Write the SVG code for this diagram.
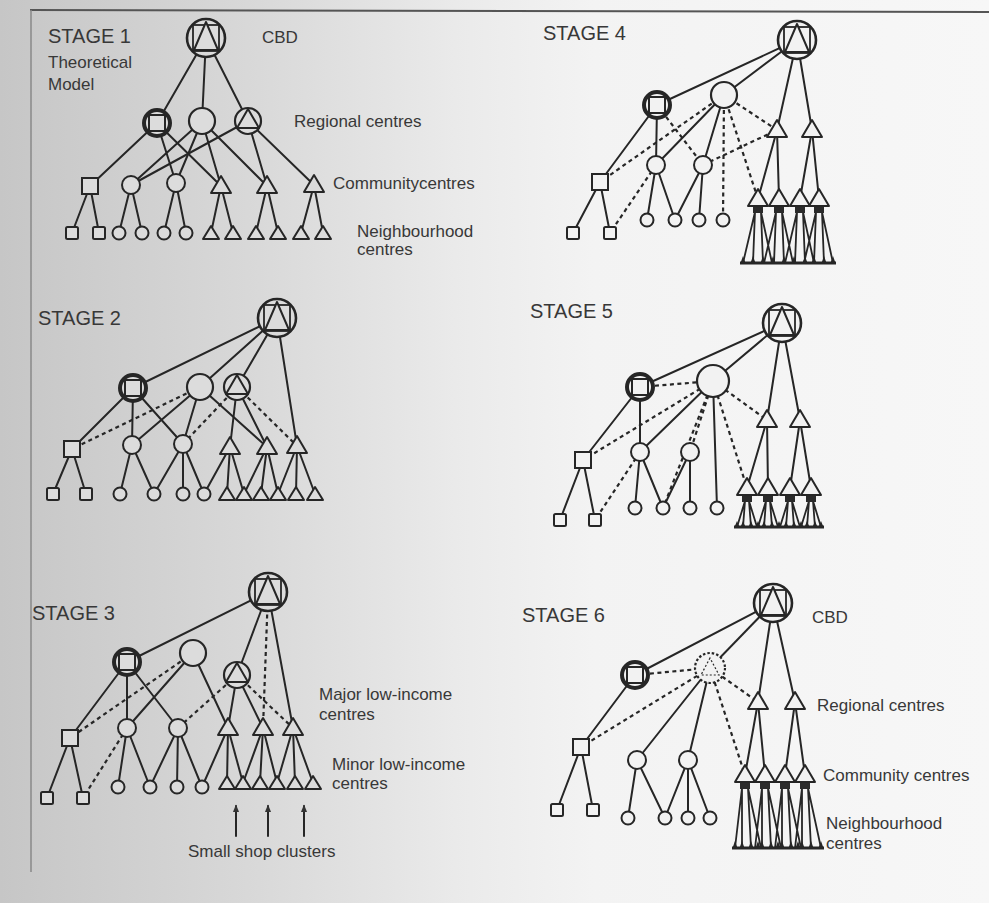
<svg xmlns="http://www.w3.org/2000/svg" width="989" height="903" viewBox="0 0 989 903">
<style>
.nl{fill:#dcdcdc;stroke:#262626}
.nr{fill:#f2f2f2;stroke:#262626}
.e{stroke:#262626;stroke-width:2;fill:none;stroke-linecap:round}
.d{stroke:#262626;stroke-width:2.2;stroke-dasharray:4 3.5;fill:none}
.f{stroke:#262626;stroke-width:1.8;fill:none}
.b{stroke:#262626;stroke-width:3;fill:none}
.sp{fill:#262626;stroke:none}
.t{font-family:"Liberation Sans",Arial,sans-serif;fill:#383838}
.st{font-size:20px}
.lb{font-size:17px}
</style>
<defs>
<linearGradient id="bg" x1="0" y1="0" x2="989" y2="0" gradientUnits="userSpaceOnUse">
<stop offset="0" stop-color="#c6c6c6"/><stop offset="0.25" stop-color="#d8d8d8"/><stop offset="0.46" stop-color="#eaeaea"/><stop offset="0.6" stop-color="#f3f3f3"/><stop offset="1" stop-color="#f7f7f7"/>
</linearGradient>
<marker id="ah" viewBox="0 0 10 10" refX="8" refY="5" markerWidth="8" markerHeight="8" markerUnits="userSpaceOnUse" orient="auto"><path d="M0,1 L10,5 L0,9 z" fill="#333"/></marker>
<g id="cbd"><circle r="19" stroke-width="2.6"/><rect x="-13" y="-13" width="26" height="26" stroke-width="1.8"/><polygon points="0,-16 -12,12 12,12" stroke-width="2" stroke-linejoin="round"/></g>
<g id="rsq"><circle r="13" stroke-width="4"/><rect x="-8" y="-8" width="16" height="16" stroke-width="2"/></g>
<g id="rci"><circle r="13" stroke-width="2.2"/></g>
<g id="rcb"><circle r="16" stroke-width="2.2"/></g>
<g id="rdot"><circle r="15" stroke-width="2.2" stroke-dasharray="2.5 2"/><polygon points="0,-10 -9,7 9,7" stroke-width="1.2" stroke-dasharray="2 2" fill="none"/></g>
<g id="rtr"><circle r="13" stroke-width="2.2"/><polygon points="0,-12 -11,7 11,7" stroke-width="2" stroke-linejoin="round"/></g>
<g id="csq"><rect x="-8" y="-8" width="16" height="16" stroke-width="2"/></g>
<g id="cci"><circle r="9" stroke-width="2"/></g>
<g id="ctr"><polygon points="0,-10 -10,7 10,7" stroke-width="2" stroke-linejoin="round"/></g>
<g id="ctf"><rect x="-5" y="7" width="10" height="7" fill="#2a2a2a" stroke="none"/><polygon points="0,-10 -10,7 10,7" stroke-width="2" stroke-linejoin="round"/></g>
<g id="bsq"><rect x="-6" y="-6" width="12" height="12" rx="1.5" stroke-width="2"/></g>
<g id="bci"><circle r="6.5" stroke-width="2"/></g>
<g id="btr"><polygon points="0,-7 -8,6 8,6" stroke-width="2" stroke-linejoin="round"/></g>
</defs>
<rect width="989" height="903" fill="url(#bg)"/>
<line x1="30" y1="10" x2="989" y2="12" stroke="#555" stroke-width="2"/>
<line x1="31" y1="10" x2="31" y2="872" stroke="#888" stroke-width="1.5"/>

<g id="connectors">
<!-- stage 1 -->
<path class="e" d="M206 38L157 123"/><path class="e" d="M206 38L202 121"/><path class="e" d="M206 38L248 121"/>
<path class="e" d="M157 123L90 186"/><path class="e" d="M157 123L176 183"/><path class="e" d="M157 123L221 186"/>
<path class="e" d="M202 121L131 185"/><path class="e" d="M202 121L176 183"/><path class="e" d="M202 121L221 186"/><path class="e" d="M202 121L267 186"/>
<path class="e" d="M248 121L131 185"/><path class="e" d="M248 121L267 186"/><path class="e" d="M248 121L314 185"/>
<path class="e" d="M90 186L72 233"/><path class="e" d="M90 186L99 233"/><path class="e" d="M131 185L119 233"/><path class="e" d="M131 185L142 233"/>
<path class="e" d="M176 183L164 233"/><path class="e" d="M176 183L186 233"/><path class="e" d="M221 186L211 233"/><path class="e" d="M221 186L233 233"/>
<path class="e" d="M267 186L256 233"/><path class="e" d="M267 186L278 233"/><path class="e" d="M314 185L301 233"/><path class="e" d="M314 185L323 233"/>
<!-- stage 2 -->
<path class="e" d="M277 318L133 388"/><path class="e" d="M277 318L200 387"/><path class="e" d="M277 318L237 387"/><path class="e" d="M277 318L297 446"/>
<path class="e" d="M133 388L72 449"/><path class="e" d="M133 388L132 445"/><path class="e" d="M133 388L183 444"/>
<path class="e" d="M200 387L132 445"/><path class="e" d="M200 387L183 444"/><path class="e" d="M200 387L267 447"/>
<path class="e" d="M237 387L230 447"/><path class="e" d="M237 387L267 447"/>
<path class="d" d="M200 387L72 449"/><path class="d" d="M237 387L183 444"/><path class="d" d="M237 387L297 446"/>
<path class="e" d="M72 449L53 494"/><path class="e" d="M72 449L86 494"/><path class="e" d="M132 445L120 494"/><path class="e" d="M132 445L154 494"/>
<path class="e" d="M183 444L154 494"/><path class="e" d="M183 444L183 494"/><path class="e" d="M183 444L204 494"/>
<path class="e" d="M230 447L204 494"/><path class="e" d="M230 447L227 494"/><path class="e" d="M230 447L244 494"/>
<path class="e" d="M267 447L244 494"/><path class="e" d="M267 447L261 494"/><path class="e" d="M267 447L278 494"/>
<path class="e" d="M297 446L278 494"/><path class="e" d="M297 446L296 494"/><path class="e" d="M297 446L315 494"/>
<!-- stage 3 -->
<path class="e" d="M268 592L127 662"/><path class="e" d="M268 592L237 675"/><path class="e" d="M268 592L293 728"/>
<path class="d" d="M268 592L263 728"/>
<path class="e" d="M127 662L70 738"/><path class="e" d="M127 662L127 728"/><path class="e" d="M127 662L178 728"/>
<path class="e" d="M193 653L127 728"/><path class="e" d="M193 653L228 728"/><path class="d" d="M193 653L70 738"/>
<path class="e" d="M237 675L228 728"/><path class="e" d="M237 675L263 728"/><path class="d" d="M237 675L178 728"/><path class="d" d="M237 675L293 728"/>
<path class="e" d="M70 738L47 798"/><path class="e" d="M70 738L83 798"/><path class="d" d="M127 728L83 798"/>
<path class="e" d="M127 728L118 787"/><path class="e" d="M127 728L150 787"/>
<path class="e" d="M178 728L150 787"/><path class="e" d="M178 728L177 787"/><path class="e" d="M178 728L202 787"/>
<path class="e" d="M228 728L202 787"/><path class="e" d="M228 728L227 783"/><path class="e" d="M228 728L243 783"/>
<path class="e" d="M263 728L243 783"/><path class="e" d="M263 728L260 783"/><path class="e" d="M263 728L277 783"/>
<path class="e" d="M293 728L277 783"/><path class="e" d="M293 728L295 783"/><path class="e" d="M293 728L313 783"/>
<path class="e" d="M236 836L236 806" marker-end="url(#ah)"/><path class="e" d="M268 836L268 806" marker-end="url(#ah)"/><path class="e" d="M304 836L304 806" marker-end="url(#ah)"/>
<!-- stage 4 -->
<path class="e" d="M797 40L657 105"/><path class="e" d="M797 40L724 95"/><path class="e" d="M797 40L777 130"/><path class="e" d="M797 40L812 130"/>
<path class="e" d="M657 105L600 182"/><path class="e" d="M657 105L656 165"/><path class="d" d="M657 105L703 165"/>
<path class="e" d="M724 95L656 165"/><path class="e" d="M724 95L703 165"/><path class="d" d="M724 95L600 182"/>
<path class="d" d="M724 95L723 220"/><path class="d" d="M724 95L758 199"/><path class="d" d="M724 95L777 130"/><path class="d" d="M703 165L777 130"/>
<path class="e" d="M777 130L758 199"/><path class="e" d="M777 130L779 199"/><path class="e" d="M812 130L800 199"/><path class="e" d="M812 130L819 199"/>
<path class="e" d="M600 182L573 233"/><path class="e" d="M600 182L610 233"/><path class="d" d="M656 165L610 233"/>
<path class="e" d="M656 165L647 220"/><path class="e" d="M656 165L675 220"/><path class="e" d="M703 165L675 220"/><path class="e" d="M703 165L699 220"/>
<path class="f" d="M755 212L743 263M755 212L753 263M761 212L763 263M761 212L772 263M776 212L764 263M776 212L774 263M782 212L784 263M782 212L793 263M797 212L785 263M797 212L795 263M803 212L805 263M803 212L814 263M816 212L804 263M816 212L814 263M822 212L824 263M822 212L833 263"/>
<!-- stage 5 -->
<path class="e" d="M782 323L640 387"/><path class="e" d="M782 323L713 381"/><path class="e" d="M782 323L767 420"/><path class="e" d="M782 323L800 420"/>
<path class="e" d="M640 387L583 460"/><path class="e" d="M640 387L640 452"/><path class="d" d="M640 387L713 381"/>
<path class="e" d="M713 381L640 452"/><path class="e" d="M713 381L717 508"/>
<path class="d" d="M713 381L583 460"/><path class="d" d="M713 381L690 452"/><path class="d" d="M713 381L663 508"/><path class="d" d="M713 381L747 488"/><path class="d" d="M713 381L767 420"/>
<path class="e" d="M767 420L747 488"/><path class="e" d="M767 420L768 488"/><path class="e" d="M800 420L790 488"/><path class="e" d="M800 420L811 488"/>
<path class="e" d="M583 460L560 520"/><path class="e" d="M583 460L595 520"/><path class="d" d="M640 452L595 520"/>
<path class="e" d="M640 452L635 508"/><path class="e" d="M640 452L663 508"/><path class="e" d="M690 452L663 508"/><path class="e" d="M690 452L690 508"/>
<path class="f" d="M745 501L737 527M745 501L743 527M749 501L751 527M749 501L757 527M766 501L758 527M766 501L764 527M770 501L772 527M770 501L778 527M788 501L780 527M788 501L786 527M792 501L794 527M792 501L800 527M809 501L801 527M809 501L807 527M813 501L815 527M813 501L821 527"/>
<!-- stage 6 -->
<path class="e" d="M773 603L635 675"/><path class="e" d="M773 603L710 668"/><path class="e" d="M773 603L758 702"/><path class="e" d="M773 603L795 702"/>
<path class="e" d="M635 675L581 747"/><path class="d" d="M635 675L710 668"/>
<path class="e" d="M710 668L637 760"/><path class="e" d="M710 668L688 760"/>
<path class="d" d="M710 668L581 747"/><path class="d" d="M710 668L745 775"/><path class="d" d="M710 668L758 702"/>
<path class="e" d="M758 702L745 775"/><path class="e" d="M758 702L765 775"/><path class="e" d="M795 702L785 775"/><path class="e" d="M795 702L805 775"/>
<path class="e" d="M581 747L557 810"/><path class="e" d="M581 747L593 810"/>
<path class="e" d="M637 760L628 818"/><path class="e" d="M637 760L665 818"/><path class="e" d="M688 760L665 818"/><path class="e" d="M688 760L688 818"/><path class="e" d="M688 760L710 818"/>
<path class="f" d="M742 788L735 848M742 788L742 848M748 788L751 848M748 788L761 848M762 788L755 848M762 788L762 848M768 788L771 848M768 788L781 848M782 788L775 848M782 788L782 848M788 788L791 848M788 788L801 848M802 788L795 848M802 788L802 848M808 788L811 848M808 788L821 848"/>
</g>

<!-- Stage 1 nodes -->
<g id="s1-cbd"><use href="#cbd" x="206" y="38" class="nl"/></g>
<g id="s1-r1"><use href="#rsq" x="157" y="123" class="nl"/></g>
<g id="s1-r2"><use href="#rci" x="202" y="121" class="nl"/></g>
<g id="s1-r3"><use href="#rtr" x="248" y="121" class="nl"/></g>
<g id="s1-c1"><use href="#csq" x="90" y="186" class="nl"/></g>
<g id="s1-c2"><use href="#cci" x="131" y="185" class="nl"/></g>
<g id="s1-c3"><use href="#cci" x="176" y="183" class="nl"/></g>
<g id="s1-c4"><use href="#ctr" x="221" y="186" class="nl"/></g>
<g id="s1-c5"><use href="#ctr" x="267" y="186" class="nl"/></g>
<g id="s1-c6"><use href="#ctr" x="314" y="185" class="nl"/></g>
<g id="s1-n1"><use href="#bsq" x="72" y="233" class="nl"/></g>
<g id="s1-n2"><use href="#bsq" x="99" y="233" class="nl"/></g>
<g id="s1-n3"><use href="#bci" x="119" y="233" class="nl"/></g>
<g id="s1-n4"><use href="#bci" x="142" y="233" class="nl"/></g>
<g id="s1-n5"><use href="#bci" x="164" y="233" class="nl"/></g>
<g id="s1-n6"><use href="#bci" x="186" y="233" class="nl"/></g>
<g id="s1-n7"><use href="#btr" x="211" y="233" class="nl"/></g>
<g id="s1-n8"><use href="#btr" x="233" y="233" class="nl"/></g>
<g id="s1-n9"><use href="#btr" x="256" y="233" class="nl"/></g>
<g id="s1-n10"><use href="#btr" x="278" y="233" class="nl"/></g>
<g id="s1-n11"><use href="#btr" x="301" y="233" class="nl"/></g>
<g id="s1-n12"><use href="#btr" x="323" y="233" class="nl"/></g>

<!-- Stage 2 nodes -->
<g id="s2-cbd"><use href="#cbd" x="277" y="318" class="nl"/></g>
<g id="s2-r1"><use href="#rsq" x="133" y="388" class="nl"/></g>
<g id="s2-r2"><use href="#rci" x="200" y="387" class="nl"/></g>
<g id="s2-r3"><use href="#rtr" x="237" y="387" class="nl"/></g>
<g id="s2-c1"><use href="#csq" x="72" y="449" class="nl"/></g>
<g id="s2-c2"><use href="#cci" x="132" y="445" class="nl"/></g>
<g id="s2-c3"><use href="#cci" x="183" y="444" class="nl"/></g>
<g id="s2-c4"><use href="#ctr" x="230" y="447" class="nl"/></g>
<g id="s2-c5"><use href="#ctr" x="267" y="447" class="nl"/></g>
<g id="s2-c6"><use href="#ctr" x="297" y="446" class="nl"/></g>
<g id="s2-n1"><use href="#bsq" x="53" y="494" class="nl"/></g>
<g id="s2-n2"><use href="#bsq" x="86" y="494" class="nl"/></g>
<g id="s2-n3"><use href="#bci" x="120" y="494" class="nl"/></g>
<g id="s2-n4"><use href="#bci" x="154" y="494" class="nl"/></g>
<g id="s2-n5"><use href="#bci" x="183" y="494" class="nl"/></g>
<g id="s2-n6"><use href="#bci" x="204" y="494" class="nl"/></g>
<g id="s2-n7"><use href="#btr" x="227" y="494" class="nl"/></g>
<g id="s2-n8"><use href="#btr" x="244" y="494" class="nl"/></g>
<g id="s2-n9"><use href="#btr" x="261" y="494" class="nl"/></g>
<g id="s2-n10"><use href="#btr" x="278" y="494" class="nl"/></g>
<g id="s2-n11"><use href="#btr" x="296" y="494" class="nl"/></g>
<g id="s2-n12"><use href="#btr" x="315" y="494" class="nl"/></g>

<!-- Stage 3 nodes -->
<g id="s3-cbd"><use href="#cbd" x="268" y="592" class="nl"/></g>
<g id="s3-r1"><use href="#rsq" x="127" y="662" class="nl"/></g>
<g id="s3-r2"><use href="#rci" x="193" y="653" class="nl"/></g>
<g id="s3-r3"><use href="#rtr" x="237" y="675" class="nl"/></g>
<g id="s3-c1"><use href="#csq" x="70" y="738" class="nl"/></g>
<g id="s3-c2"><use href="#cci" x="127" y="728" class="nl"/></g>
<g id="s3-c3"><use href="#cci" x="178" y="728" class="nl"/></g>
<g id="s3-c4"><use href="#ctr" x="228" y="728" class="nl"/></g>
<g id="s3-c5"><use href="#ctr" x="263" y="728" class="nl"/></g>
<g id="s3-c6"><use href="#ctr" x="293" y="728" class="nl"/></g>
<g id="s3-n1"><use href="#bsq" x="47" y="798" class="nl"/></g>
<g id="s3-n2"><use href="#bsq" x="83" y="798" class="nl"/></g>
<g id="s3-n3"><use href="#bci" x="118" y="787" class="nl"/></g>
<g id="s3-n4"><use href="#bci" x="150" y="787" class="nl"/></g>
<g id="s3-n5"><use href="#bci" x="177" y="787" class="nl"/></g>
<g id="s3-n6"><use href="#bci" x="202" y="787" class="nl"/></g>
<g id="s3-n7"><use href="#btr" x="227" y="783" class="nl"/></g>
<g id="s3-n8"><use href="#btr" x="243" y="783" class="nl"/></g>
<g id="s3-n9"><use href="#btr" x="260" y="783" class="nl"/></g>
<g id="s3-n10"><use href="#btr" x="277" y="783" class="nl"/></g>
<g id="s3-n11"><use href="#btr" x="295" y="783" class="nl"/></g>
<g id="s3-n12"><use href="#btr" x="313" y="783" class="nl"/></g>

<!-- Stage 4 nodes -->
<g id="s4-cbd"><use href="#cbd" x="797" y="40" class="nr"/></g>
<g id="s4-r1"><use href="#rsq" x="657" y="105" class="nr"/></g>
<g id="s4-r2"><use href="#rci" x="724" y="95" class="nr"/></g>
<g id="s4-r3"><use href="#ctr" x="777" y="130" class="nr"/></g>
<g id="s4-r4"><use href="#ctr" x="812" y="130" class="nr"/></g>
<g id="s4-c1"><use href="#csq" x="600" y="182" class="nr"/></g>
<g id="s4-c2"><use href="#cci" x="656" y="165" class="nr"/></g>
<g id="s4-c3"><use href="#cci" x="703" y="165" class="nr"/></g>
<g id="s4-c4"><use href="#ctf" x="758" y="199" class="nr"/></g>
<g id="s4-c5"><use href="#ctf" x="779" y="199" class="nr"/></g>
<g id="s4-c6"><use href="#ctf" x="800" y="199" class="nr"/></g>
<g id="s4-c7"><use href="#ctf" x="819" y="199" class="nr"/></g>
<g id="s4-n1"><use href="#bsq" x="573" y="233" class="nr"/></g>
<g id="s4-n2"><use href="#bsq" x="610" y="233" class="nr"/></g>
<g id="s4-n3"><use href="#bci" x="647" y="220" class="nr"/></g>
<g id="s4-n4"><use href="#bci" x="675" y="220" class="nr"/></g>
<g id="s4-n5"><use href="#bci" x="699" y="220" class="nr"/></g>
<g id="s4-n6"><use href="#bci" x="723" y="220" class="nr"/></g>
<g id="s4-n7"><path class="b" d="M740 263H836"/><path class="sp" d="M740.5 263l2.5-7 2.5 7zM750.5 263l2.5-7 2.5 7zM760.5 263l2.5-7 2.5 7zM770.5 263l2.5-7 2.5 7zM781.5 263l2.5-7 2.5 7zM791.5 263l2.5-7 2.5 7zM802.5 263l2.5-7 2.5 7zM811.5 263l2.5-7 2.5 7zM821.5 263l2.5-7 2.5 7zM830.5 263l2.5-7 2.5 7z"/></g>

<!-- Stage 5 nodes -->
<g id="s5-cbd"><use href="#cbd" x="782" y="323" class="nr"/></g>
<g id="s5-r1"><use href="#rsq" x="640" y="387" class="nr"/></g>
<g id="s5-r2"><use href="#rcb" x="713" y="381" class="nr"/></g>
<g id="s5-r3"><use href="#ctr" x="767" y="420" class="nr"/></g>
<g id="s5-r4"><use href="#ctr" x="800" y="420" class="nr"/></g>
<g id="s5-c1"><use href="#csq" x="583" y="460" class="nr"/></g>
<g id="s5-c2"><use href="#cci" x="640" y="452" class="nr"/></g>
<g id="s5-c3"><use href="#cci" x="690" y="452" class="nr"/></g>
<g id="s5-c4"><use href="#ctf" x="747" y="488" class="nr"/></g>
<g id="s5-c5"><use href="#ctf" x="768" y="488" class="nr"/></g>
<g id="s5-c6"><use href="#ctf" x="790" y="488" class="nr"/></g>
<g id="s5-c7"><use href="#ctf" x="811" y="488" class="nr"/></g>
<g id="s5-n1"><use href="#bsq" x="560" y="520" class="nr"/></g>
<g id="s5-n2"><use href="#bsq" x="595" y="520" class="nr"/></g>
<g id="s5-n3"><use href="#bci" x="635" y="508" class="nr"/></g>
<g id="s5-n4"><use href="#bci" x="663" y="508" class="nr"/></g>
<g id="s5-n5"><use href="#bci" x="690" y="508" class="nr"/></g>
<g id="s5-n6"><use href="#bci" x="717" y="508" class="nr"/></g>
<g id="s5-n7"><path class="b" d="M734 527H824"/><path class="sp" d="M734.5 527l2.5-6 2.5 6zM740.5 527l2.5-6 2.5 6zM748.5 527l2.5-6 2.5 6zM755.5 527l2.5-6 2.5 6zM761.5 527l2.5-6 2.5 6zM769.5 527l2.5-6 2.5 6zM776.5 527l2.5-6 2.5 6zM783.5 527l2.5-6 2.5 6zM791.5 527l2.5-6 2.5 6zM798.5 527l2.5-6 2.5 6zM804.5 527l2.5-6 2.5 6zM812.5 527l2.5-6 2.5 6zM818.5 527l2.5-6 2.5 6z"/></g>

<!-- Stage 6 nodes -->
<g id="s6-cbd"><use href="#cbd" x="773" y="603" class="nr"/></g>
<g id="s6-r1"><use href="#rsq" x="635" y="675" class="nr"/></g>
<g id="s6-r2"><use href="#rdot" x="710" y="668" class="nr"/></g>
<g id="s6-r3"><use href="#ctr" x="758" y="702" class="nr"/></g>
<g id="s6-r4"><use href="#ctr" x="795" y="702" class="nr"/></g>
<g id="s6-c1"><use href="#csq" x="581" y="747" class="nr"/></g>
<g id="s6-c2"><use href="#cci" x="637" y="760" class="nr"/></g>
<g id="s6-c3"><use href="#cci" x="688" y="760" class="nr"/></g>
<g id="s6-c4"><use href="#ctf" x="745" y="775" class="nr"/></g>
<g id="s6-c5"><use href="#ctf" x="765" y="775" class="nr"/></g>
<g id="s6-c6"><use href="#ctf" x="785" y="775" class="nr"/></g>
<g id="s6-c7"><use href="#ctf" x="805" y="775" class="nr"/></g>
<g id="s6-n1"><use href="#bsq" x="557" y="810" class="nr"/></g>
<g id="s6-n2"><use href="#bsq" x="593" y="810" class="nr"/></g>
<g id="s6-n3"><use href="#bci" x="628" y="818" class="nr"/></g>
<g id="s6-n4"><use href="#bci" x="665" y="818" class="nr"/></g>
<g id="s6-n5"><use href="#bci" x="688" y="818" class="nr"/></g>
<g id="s6-n6"><use href="#bci" x="710" y="818" class="nr"/></g>
<g id="s6-n7"><path class="b" d="M732 848H824"/><path class="sp" d="M732.5 848l2.5-7 2.5 7zM739.5 848l2.5-7 2.5 7zM748.5 848l2.5-7 2.5 7zM755.5 848l2.5-7 2.5 7zM759.5 848l2.5-7 2.5 7zM768.5 848l2.5-7 2.5 7zM775.5 848l2.5-7 2.5 7zM779.5 848l2.5-7 2.5 7zM788.5 848l2.5-7 2.5 7zM795.5 848l2.5-7 2.5 7zM799.5 848l2.5-7 2.5 7zM808.5 848l2.5-7 2.5 7zM818.5 848l2.5-7 2.5 7z"/></g>

<!-- Labels -->
<g id="labels" class="t">
<text x="48" y="43" class="st">STAGE 1</text>
<text x="48" y="68" class="lb">Theoretical</text>
<text x="48" y="90" class="lb">Model</text>
<text x="262" y="43" class="lb">CBD</text>
<text x="294" y="127" class="lb">Regional centres</text>
<text x="333" y="189" class="lb">Communitycentres</text>
<text x="357" y="237" class="lb">Neighbourhood</text>
<text x="357" y="255" class="lb">centres</text>
<text x="38" y="325" class="st">STAGE 2</text>
<text x="32" y="620" class="st">STAGE 3</text>
<text x="319" y="700" class="lb">Major low-income</text>
<text x="319" y="720" class="lb">centres</text>
<text x="332" y="770" class="lb">Minor low-income</text>
<text x="332" y="789" class="lb">centres</text>
<text x="188" y="857" class="lb">Small shop clusters</text>
<text x="543" y="40" class="st">STAGE 4</text>
<text x="530" y="318" class="st">STAGE 5</text>
<text x="522" y="622" class="st">STAGE 6</text>
<text x="812" y="623" class="lb">CBD</text>
<text x="817" y="711" class="lb">Regional centres</text>
<text x="823" y="781" class="lb">Community centres</text>
<text x="826" y="829" class="lb">Neighbourhood</text>
<text x="826" y="849" class="lb">centres</text>
</g>
</svg>
